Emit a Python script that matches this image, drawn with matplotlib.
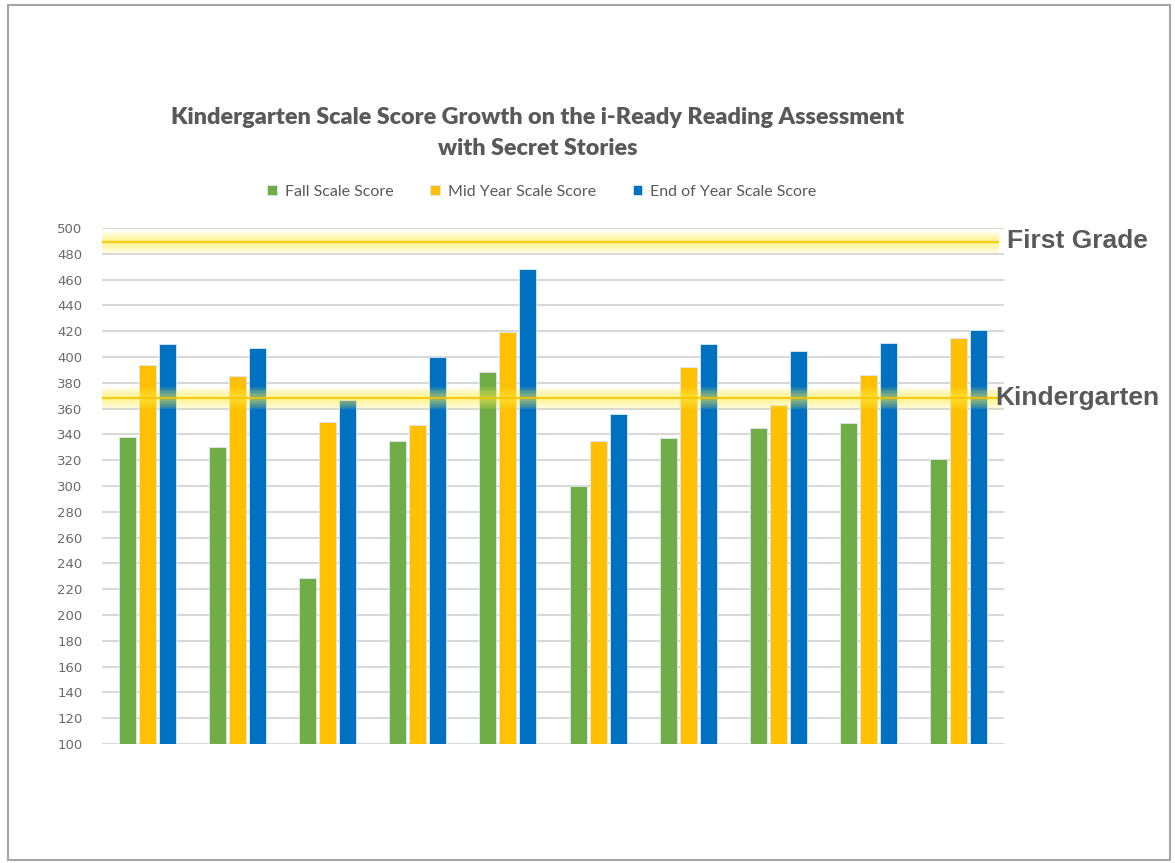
import matplotlib.pyplot as plt
import numpy as np
from matplotlib.patches import Rectangle

# Data
series_names = ['Fall Scale Score', 'Mid Year Scale Score', 'End of Year Scale Score']
fall = [338, 330, 229, 335, 388, 300, 337, 345, 349, 321]
mid_year = [394, 385, 350, 347, 419, 335, 392, 363, 386, 415]
end_year = [410, 407, 367, 400, 468, 356, 410, 405, 411, 421]
bar_colors = ['#70AD47', '#FFC000', '#0070C0']
y_ticks = list(range(100, 501, 20))
benchmarks = [('First Grade', 489), ('Kindergarten', 368)]

W, H = 1175, 863
fig = plt.figure(figsize=(W / 100, H / 100), dpi=100)
fig.patch.set_facecolor('white')

# Screenshot frame around the chart
fig.patches.append(Rectangle((8 / W, 3 / H), 1162 / W, 855 / H, transform=fig.transFigure,
                             fill=False, edgecolor='#a6a6a6', linewidth=1.5))

# Plot area (pixel coordinates from the reference)
left, right, top, bottom = 102, 1004, 228, 744
ax = fig.add_axes([left / W, 1 - bottom / H, (right - left) / W, (bottom - top) / H])

x = np.arange(len(fall))
width = 0.19
step = 0.222
for i, (vals, col, name) in enumerate(zip([fall, mid_year, end_year], bar_colors, series_names)):
    ax.bar(x + (i - 1) * step, np.array(vals) - 100, bottom=100, width=width, color=col,
           edgecolor='#dbe9f6', linewidth=0.6, zorder=3, label=name)

ax.set_ylim(100, 500)
ax.set_xlim(-0.5, len(fall) - 0.5)
ax.set_yticks(y_ticks)
ax.set_xticks([])
ax.yaxis.grid(True, color='#d9d9d9', linewidth=1.5, zorder=0)
ax.tick_params(axis='y', length=0, labelsize=9.5, labelcolor='#6a6a6a', pad=14)
for s in ax.spines.values():
    s.set_visible(False)

# Highlighted benchmark lines with a soft glow
for name, val in benchmarks:
    for lw in np.arange(16, 2, -2):
        ax.plot([0, 0.995], [val, val], transform=ax.get_yaxis_transform(), color='#fff04a',
                linewidth=lw, alpha=0.1, solid_capstyle='butt', zorder=4, clip_on=False)
    ax.plot([0, 0.995], [val, val], transform=ax.get_yaxis_transform(), color='#f5c400',
            linewidth=1.6, alpha=0.85, solid_capstyle='butt', zorder=5, clip_on=False)

fig.text(1007 / W, 1 - 241 / H, 'First Grade', fontsize=19, fontweight='bold',
         color='#595959', family='Liberation Sans', va='center', ha='left')
fig.text(995 / W, 1 - 398 / H, 'Kindergarten', fontsize=19, fontweight='bold',
         color='#595959', family='Liberation Sans', va='center', ha='left', zorder=10)

# Title
fig.text(538 / W, 1 - 133 / H,
         'Kindergarten Scale Score Growth on the i-Ready Reading Assessment\nwith Secret Stories',
         fontsize=16.8, fontweight='heavy', color='#595959', family='Lato',
         ha='center', va='center', linespacing=1.55)

# Legend
leg = fig.legend(loc='center', bbox_to_anchor=(542 / W, 1 - 192 / H), ncol=3, frameon=False,
                 handlelength=0.6, handleheight=0.6, handletextpad=0.5, columnspacing=2.3,
                 prop={'family': 'Lato', 'size': 11.5})
for t in leg.get_texts():
    t.set_color('#595959')

plt.savefig('out.png', dpi=100)
